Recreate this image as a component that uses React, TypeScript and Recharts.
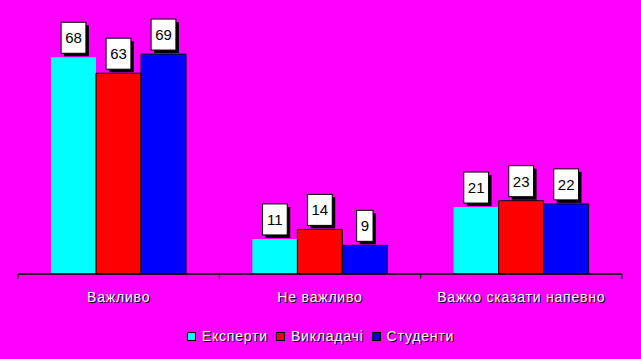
import React from 'react';
import { BarChart, Bar, XAxis, YAxis, LabelList, Legend } from 'recharts';

const categories = ['Важливо', 'Не важливо', 'Важко сказати напевно'];
const seriesNames = ['Експерти', 'Викладачі', 'Студенти'];
const experts = [68, 11, 21];
const teachers = [63, 14, 23];
const students = [69, 9, 22];
const colors = ['#00FFFF', '#FF0000', '#0000FF'];

const data = categories.map((c, i) => ({
  name: c,
  s0: experts[i],
  s1: teachers[i],
  s2: students[i],
}));

const W = 641;
const H = 359;
const M = { top: 19, right: 19, left: 18, bottom: 17 };
const BAND = (W - M.left - M.right) / categories.length;
const FONT = 'Arial, "Liberation Sans", sans-serif';

const Tick = (props: any) => {
  const { x, y, payload, index } = props;
  return (
    <g>
      <line x1={x - BAND / 2} y1={y} x2={x - BAND / 2} y2={y + 5} stroke="#000" strokeWidth={1} />
      {index === categories.length - 1 && (
        <line x1={x + BAND / 2} y1={y} x2={x + BAND / 2} y2={y + 5} stroke="#000" strokeWidth={1} />
      )}
      <text x={x + 1} y={y + 29} textAnchor="middle" fontFamily={FONT} fontSize={14} letterSpacing={0.8} fill="#000">
        {payload.value}
      </text>
      <text x={x} y={y + 28} textAnchor="middle" fontFamily={FONT} fontSize={14} letterSpacing={0.8} fill="#fff">
        {payload.value}
      </text>
    </g>
  );
};

const BoxLabel = (props: any) => {
  const { x, y, width, value } = props;
  const s = String(value);
  const tw = s.length * 8.4;
  const bw = tw + 8;
  const bh = 31;
  const cx = x + width / 2;
  const bx = cx - bw / 2;
  const by = y - 4 - bh;
  return (
    <g>
      <rect x={bx + 3} y={by + 3} width={bw} height={bh} fill="#000" />
      <rect x={bx} y={by} width={bw} height={bh} fill="#fff" stroke="#000" strokeWidth={1} />
      <text x={cx} y={by + bh / 2 + 5.5} textAnchor="middle" fontFamily={FONT} fontSize={15} fill="#000">
        {s}
      </text>
    </g>
  );
};

const LegendContent = () => (
  <div style={{ display: 'flex', justifyContent: 'center', alignItems: 'center', height: 18, fontFamily: FONT, fontSize: 14, letterSpacing: 0.8 }}>
    {seriesNames.map((n, i) => (
      <div key={n} style={{ display: 'flex', alignItems: 'center', marginRight: i < 2 ? 8 : 0 }}>
        <span style={{ display: 'inline-block', width: 7, height: 7, background: colors[i], border: '1px solid #000', marginRight: 6 }} />
        <span style={{ color: '#fff', textShadow: '1px 1px 0 #000' }}>{n}</span>
      </div>
    ))}
  </div>
);

export default function App() {
  return (
    <div style={{ position: 'absolute', left: 0, top: 0, width: W, height: H, background: '#FF00FF' }}>
      <BarChart width={W} height={H} data={data} margin={M} barCategoryGap={33} barGap={0}>
        <YAxis hide domain={[0, 80]} />
        <XAxis
          dataKey="name"
          axisLine={{ stroke: '#000', strokeWidth: 1.5 }}
          tickLine={false}
          tickSize={0}
          tickMargin={0}
          height={50}
          interval={0}
          tick={<Tick />}
        />
        <Legend content={<LegendContent />} wrapperStyle={{ top: 327, left: 0, width: W, height: 18 }} />
        {['s0', 's1', 's2'].map((k, i) => (
          <Bar key={k} dataKey={k} name={seriesNames[i]} fill={colors[i]} stroke={i === 0 ? 'none' : '#000'} strokeWidth={1} isAnimationActive={false}>
            <LabelList dataKey={k} content={<BoxLabel />} />
          </Bar>
        ))}
      </BarChart>
    </div>
  );
}
